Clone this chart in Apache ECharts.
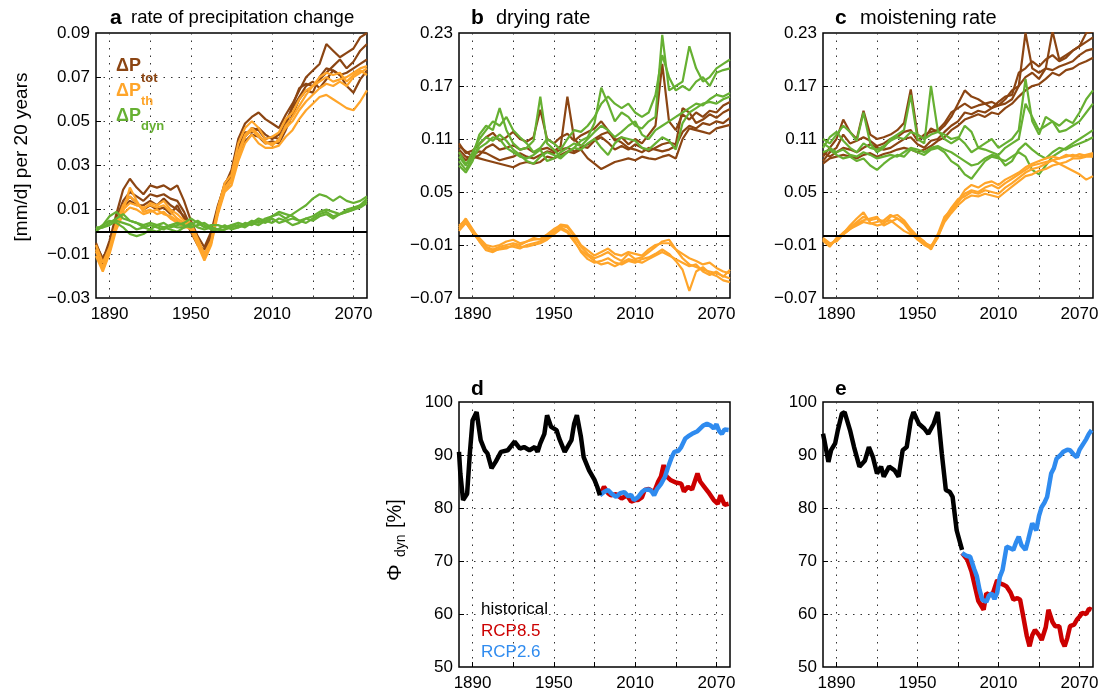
<!DOCTYPE html>
<html>
<head>
<meta charset="utf-8">
<title>precipitation change rates</title>
<script src="https://cdn.jsdelivr.net/npm/echarts@6.0.0/dist/echarts.min.js"></script>
<style>
html, body { margin: 0; padding: 0; background: #fff; }
#chart { width: 1104px; height: 695px; }
</style>
</head>
<body>
<div id="chart"></div>
<script>
var FONT = "'Liberation Sans', Arial, Helvetica, sans-serif";

// colours
var cTot = '#8B4513', cTh = '#FFA52A', cDyn = '#66B032';
var cHist = '#000000', c85 = '#CC0000', c26 = '#2F8BEF';

// axis ticks / labels
var xTickVals = [1890, 1920, 1950, 1980, 2010, 2040, 2070];
var xLabelVals = [1890, 1950, 2010, 2070];
var aLabelVals = [-0.03, -0.01, 0.01, 0.03, 0.05, 0.07, 0.09];
var bcLabelVals = [-0.07, -0.01, 0.05, 0.11, 0.17, 0.23];
var deLabelVals = [50, 60, 70, 80, 90, 100];

// years for the rate panels a-c
var years = [1880,1885,1890,1895,1900,1905,1910,1915,1920,1925,
             1930,1935,1940,1945,1950,1955,1960,1965,1970,1975,
             1980,1985,1990,1995,2000,2005,2010,2015,2020,2025,
             2030,2035,2040,2045,2050,2055,2060,2065,2070,2075,2080];

// a: rate of precipitation change
var aTot1 = [-0.005,-0.013,-0.004,0.008,0.019,0.024,0.020,0.017,0.021,0.020, 0.021,0.019,0.021,0.014,0.005,-0.002,-0.007,0.000,0.012,0.021, 0.028,0.042,0.049,0.052,0.054,0.051,0.049,0.047,0.053,0.058, 0.064,0.070,0.073,0.076,0.085,0.082,0.079,0.081,0.083,0.088, 0.090];
var aTot2 = [-0.007,-0.015,-0.007,0.006,0.014,0.018,0.016,0.014,0.017,0.016, 0.017,0.015,0.014,0.009,0.002,-0.005,-0.012,-0.004,0.010,0.020, 0.025,0.036,0.043,0.047,0.046,0.042,0.043,0.042,0.048,0.057, 0.065,0.067,0.066,0.069,0.072,0.075,0.078,0.074,0.077,0.082, 0.085];
var aTot3 = [-0.009,-0.014,-0.005,0.005,0.011,0.014,0.012,0.012,0.014,0.012, 0.015,0.012,0.010,0.007,0.001,-0.004,-0.010,-0.003,0.009,0.019, 0.023,0.035,0.041,0.044,0.043,0.040,0.041,0.040,0.046,0.053, 0.060,0.064,0.063,0.070,0.074,0.073,0.071,0.072,0.074,0.076, 0.078];
var aTot4 = [-0.006,-0.012,-0.006,0.004,0.012,0.016,0.013,0.010,0.012,0.010, 0.011,0.008,0.012,0.006,0.000,-0.006,-0.008,-0.002,0.011,0.022, 0.026,0.038,0.045,0.045,0.047,0.044,0.042,0.044,0.050,0.056, 0.061,0.066,0.068,0.065,0.069,0.073,0.071,0.066,0.063,0.069, 0.073];
var aTh1 = [-0.008,-0.017,-0.009,0.003,0.010,0.013,0.012,0.011,0.012,0.011, 0.012,0.009,0.006,0.004,0.003,-0.004,-0.012,-0.005,0.010,0.020, 0.024,0.036,0.044,0.047,0.044,0.040,0.040,0.041,0.048,0.052, 0.057,0.062,0.066,0.068,0.070,0.068,0.069,0.070,0.072,0.074, 0.075];
var aTh2 = [-0.011,-0.018,-0.010,0.001,0.008,0.011,0.010,0.008,0.009,0.010, 0.008,0.007,0.005,0.003,0.001,-0.006,-0.013,-0.006,0.008,0.018, 0.021,0.032,0.040,0.044,0.040,0.038,0.038,0.039,0.043,0.046, 0.051,0.055,0.058,0.061,0.062,0.060,0.058,0.056,0.055,0.059, 0.064];
var aTh3 = [-0.006,-0.014,-0.007,0.004,0.012,0.016,0.013,0.010,0.013,0.012, 0.014,0.010,0.008,0.005,0.004,-0.003,-0.010,-0.004,0.011,0.022, 0.026,0.040,0.047,0.050,0.047,0.042,0.043,0.045,0.051,0.054, 0.060,0.064,0.066,0.070,0.072,0.071,0.072,0.068,0.071,0.073, 0.071];
var aTh4 = [-0.009,-0.016,-0.008,0.002,0.009,0.020,0.014,0.009,0.010,0.008, 0.009,0.006,0.004,0.002,0.002,-0.005,-0.011,-0.005,0.009,0.019, 0.023,0.034,0.043,0.046,0.043,0.041,0.039,0.042,0.047,0.050, 0.055,0.059,0.062,0.065,0.067,0.066,0.068,0.066,0.070,0.072, 0.074];
var aDyn1 = [0.001,0.003,0.007,0.009,0.006,0.005,0.004,0.003,0.004,0.003, 0.004,0.002,0.003,0.004,0.006,0.004,0.002,0.003,0.003,0.002, 0.003,0.004,0.003,0.005,0.004,0.006,0.007,0.008,0.006,0.008, 0.010,0.012,0.015,0.017,0.016,0.014,0.016,0.014,0.013,0.014, 0.016];
var aDyn2 = [0.002,0.002,0.004,0.006,0.008,0.005,0.004,0.002,0.003,0.002, 0.001,0.003,0.002,0.002,0.004,0.002,0.001,0.002,0.001,0.003, 0.001,0.002,0.004,0.003,0.005,0.004,0.006,0.004,0.005,0.006, 0.005,0.004,0.006,0.008,0.009,0.007,0.008,0.009,0.010,0.011, 0.013];
var aDyn3 = [0.000,0.003,0.005,0.004,0.002,-0.001,-0.002,-0.001,0.001,0.000, 0.002,0.001,0.000,0.002,0.003,0.005,0.003,0.001,0.000,0.001, 0.002,0.003,0.002,0.004,0.003,0.005,0.004,0.006,0.005,0.003, 0.004,0.006,0.005,0.007,0.008,0.006,0.008,0.009,0.010,0.012, 0.014];
var aDyn4 = [0.001,0.002,0.003,0.005,0.004,0.003,0.001,0.002,0.001,0.003, 0.002,0.003,0.004,0.003,0.002,0.003,0.004,0.002,0.001,0.001, 0.003,0.002,0.003,0.004,0.006,0.005,0.007,0.009,0.008,0.007, 0.005,0.006,0.007,0.009,0.010,0.009,0.008,0.010,0.011,0.012, 0.015];

// b: drying rate
var bTot1 = [0.105,0.094,0.097,0.104,0.112,0.117,0.108,0.112,0.118,0.110, 0.107,0.112,0.143,0.110,0.105,0.112,0.116,0.108,0.114,0.118, 0.122,0.130,0.120,0.108,0.112,0.104,0.110,0.105,0.115,0.125, 0.195,0.130,0.120,0.138,0.132,0.140,0.135,0.142,0.140,0.148, 0.152];
var bTot2 = [0.098,0.090,0.088,0.092,0.100,0.104,0.098,0.100,0.103,0.098, 0.100,0.095,0.098,0.100,0.096,0.102,0.158,0.110,0.102,0.100, 0.108,0.112,0.106,0.098,0.102,0.098,0.104,0.100,0.096,0.100, 0.104,0.106,0.104,0.145,0.140,0.128,0.132,0.138,0.134,0.140, 0.144];
var bTot3 = [0.094,0.086,0.092,0.096,0.094,0.090,0.086,0.088,0.090,0.094, 0.090,0.088,0.092,0.096,0.094,0.098,0.100,0.096,0.100,0.104, 0.110,0.115,0.118,0.110,0.106,0.100,0.098,0.095,0.100,0.098, 0.096,0.098,0.102,0.118,0.125,0.122,0.128,0.126,0.130,0.128, 0.134];
var bTot4 = [0.102,0.096,0.090,0.088,0.086,0.084,0.082,0.080,0.078,0.082, 0.084,0.082,0.084,0.090,0.088,0.092,0.096,0.094,0.098,0.088, 0.082,0.076,0.080,0.084,0.086,0.088,0.086,0.090,0.088,0.087, 0.090,0.092,0.088,0.110,0.122,0.120,0.118,0.116,0.122,0.124, 0.126];
var bDyn1 = [0.085,0.075,0.090,0.115,0.125,0.120,0.145,0.120,0.105,0.098, 0.100,0.108,0.158,0.105,0.098,0.090,0.095,0.100,0.108,0.112, 0.128,0.168,0.150,0.130,0.140,0.135,0.125,0.122,0.130,0.135, 0.228,0.165,0.170,0.175,0.215,0.190,0.175,0.180,0.190,0.195, 0.200];
var bDyn2 = [0.090,0.080,0.095,0.110,0.120,0.130,0.125,0.135,0.120,0.112, 0.105,0.095,0.100,0.110,0.105,0.098,0.110,0.120,0.118,0.125, 0.135,0.150,0.158,0.150,0.145,0.150,0.140,0.135,0.140,0.160, 0.205,0.180,0.165,0.170,0.165,0.175,0.180,0.170,0.185,0.188, 0.190];
var bDyn3 = [0.095,0.082,0.088,0.100,0.105,0.112,0.110,0.100,0.095,0.090, 0.088,0.092,0.098,0.085,0.088,0.095,0.100,0.105,0.102,0.110, 0.118,0.125,0.120,0.112,0.118,0.125,0.130,0.115,0.110,0.120, 0.125,0.130,0.135,0.140,0.145,0.150,0.148,0.155,0.160,0.158, 0.162];
var bDyn4 = [0.080,0.072,0.085,0.105,0.112,0.108,0.115,0.108,0.098,0.092, 0.085,0.082,0.090,0.095,0.092,0.088,0.095,0.100,0.098,0.105, 0.110,0.100,0.092,0.105,0.112,0.110,0.108,0.100,0.098,0.105, 0.112,0.108,0.098,0.128,0.140,0.145,0.150,0.152,0.150,0.155, 0.158];
var bTh1 = [0.010,0.020,0.008,-0.004,-0.012,-0.015,-0.012,-0.010,-0.008,-0.010, -0.006,-0.004,-0.003,0.002,0.008,0.012,0.010,0.000,-0.012,-0.020, -0.025,-0.022,-0.018,-0.024,-0.028,-0.020,-0.026,-0.024,-0.018,-0.012, -0.006,-0.004,-0.015,-0.025,-0.032,-0.035,-0.038,-0.040,-0.042,-0.045, -0.048];
var bTh2 = [0.006,0.015,0.005,-0.006,-0.016,-0.018,-0.014,-0.012,-0.012,-0.014, -0.010,-0.008,-0.006,-0.002,0.004,0.010,0.006,-0.004,-0.018,-0.026, -0.030,-0.028,-0.025,-0.030,-0.032,-0.028,-0.030,-0.026,-0.024,-0.020, -0.015,-0.020,-0.028,-0.038,-0.062,-0.040,-0.035,-0.042,-0.045,-0.050, -0.052];
var bTh3 = [0.012,0.018,0.006,-0.002,-0.010,-0.012,-0.010,-0.006,-0.004,-0.008, -0.006,-0.002,-0.004,0.000,0.006,0.013,0.012,0.002,-0.010,-0.016, -0.022,-0.018,-0.014,-0.020,-0.022,-0.018,-0.020,-0.022,-0.015,-0.010, -0.008,-0.008,-0.015,-0.020,-0.025,-0.028,-0.032,-0.030,-0.036,-0.040, -0.042];
var bTh4 = [0.008,0.016,0.004,-0.005,-0.014,-0.016,-0.015,-0.014,-0.010,-0.012, -0.012,-0.010,-0.008,-0.004,0.002,0.008,0.004,-0.006,-0.016,-0.022, -0.028,-0.032,-0.030,-0.034,-0.030,-0.026,-0.028,-0.030,-0.026,-0.022, -0.018,-0.022,-0.026,-0.030,-0.034,-0.032,-0.040,-0.044,-0.040,-0.046, -0.038];

// c: moistening rate
var cTot1 = [0.090,0.100,0.110,0.132,0.118,0.110,0.142,0.115,0.110,0.112, 0.115,0.120,0.128,0.166,0.115,0.110,0.122,0.118,0.125,0.135, 0.150,0.165,0.158,0.155,0.150,0.152,0.148,0.155,0.165,0.170, 0.230,0.190,0.185,0.190,0.232,0.200,0.205,0.210,0.215,0.230, 0.232];
var cTot2 = [0.085,0.095,0.100,0.115,0.105,0.108,0.112,0.108,0.102,0.105, 0.110,0.112,0.118,0.120,0.108,0.115,0.118,0.120,0.128,0.140, 0.145,0.150,0.145,0.148,0.150,0.145,0.152,0.158,0.160,0.185, 0.190,0.198,0.192,0.200,0.205,0.198,0.202,0.210,0.215,0.220, 0.225];
var cTot3 = [0.095,0.090,0.095,0.100,0.098,0.095,0.100,0.104,0.100,0.098, 0.100,0.105,0.110,0.112,0.104,0.100,0.108,0.110,0.118,0.125, 0.130,0.140,0.138,0.142,0.140,0.145,0.148,0.150,0.155,0.170, 0.180,0.185,0.178,0.190,0.188,0.192,0.195,0.198,0.205,0.210, 0.212];
var cTot4 = [0.082,0.088,0.090,0.092,0.090,0.088,0.092,0.094,0.090,0.093, 0.095,0.098,0.100,0.098,0.095,0.098,0.102,0.108,0.112,0.120, 0.125,0.132,0.135,0.138,0.135,0.140,0.138,0.145,0.150,0.158, 0.165,0.170,0.172,0.178,0.185,0.182,0.188,0.190,0.195,0.198, 0.202];
var cDyn1 = [0.110,0.105,0.115,0.125,0.118,0.108,0.140,0.105,0.095,0.100, 0.110,0.115,0.120,0.160,0.110,0.105,0.170,0.120,0.110,0.105, 0.110,0.125,0.118,0.100,0.105,0.110,0.100,0.105,0.110,0.120, 0.178,0.130,0.115,0.135,0.130,0.125,0.132,0.128,0.140,0.155, 0.165];
var cDyn2 = [0.100,0.112,0.118,0.108,0.100,0.095,0.105,0.100,0.098,0.102, 0.108,0.112,0.110,0.118,0.115,0.110,0.115,0.118,0.115,0.110, 0.112,0.105,0.095,0.100,0.098,0.095,0.092,0.100,0.105,0.110, 0.150,0.135,0.120,0.125,0.130,0.118,0.120,0.125,0.130,0.140, 0.150];
var cDyn3 = [0.095,0.098,0.092,0.088,0.090,0.085,0.088,0.080,0.075,0.082, 0.088,0.092,0.090,0.098,0.095,0.092,0.098,0.100,0.095,0.085, 0.080,0.070,0.065,0.075,0.085,0.090,0.088,0.085,0.090,0.095, 0.090,0.075,0.070,0.080,0.090,0.095,0.100,0.105,0.110,0.115, 0.120];
var cDyn4 = [0.105,0.100,0.095,0.098,0.092,0.090,0.095,0.092,0.088,0.090, 0.092,0.090,0.095,0.100,0.098,0.095,0.100,0.102,0.098,0.095, 0.090,0.085,0.080,0.082,0.088,0.092,0.090,0.080,0.085,0.098, 0.105,0.098,0.092,0.088,0.095,0.100,0.098,0.102,0.105,0.108, 0.112];
var cTh1 = [-0.003,-0.010,-0.004,0.004,0.010,0.016,0.022,0.018,0.020,0.016, 0.018,0.012,0.006,0.002,-0.002,-0.008,-0.012,0.002,0.022,0.030, 0.040,0.052,0.058,0.055,0.060,0.062,0.058,0.064,0.068,0.072, 0.078,0.082,0.085,0.088,0.090,0.088,0.090,0.092,0.090,0.092, 0.094];
var cTh2 = [-0.005,-0.012,-0.002,0.003,0.012,0.020,0.027,0.015,0.012,0.014, 0.022,0.024,0.018,0.008,0.000,-0.006,-0.015,0.000,0.018,0.028, 0.038,0.048,0.052,0.050,0.055,0.058,0.054,0.060,0.065,0.070, 0.075,0.080,0.082,0.084,0.086,0.082,0.078,0.074,0.070,0.064, 0.068];
var cTh3 = [-0.002,-0.008,-0.006,0.002,0.008,0.012,0.016,0.014,0.016,0.018, 0.024,0.020,0.014,0.004,-0.004,-0.010,-0.014,-0.002,0.020,0.032, 0.042,0.045,0.050,0.048,0.052,0.050,0.048,0.055,0.060,0.066, 0.072,0.076,0.078,0.082,0.086,0.088,0.092,0.090,0.093,0.091, 0.092];
var cTh4 = [-0.004,-0.011,-0.003,0.002,0.008,0.014,0.018,0.020,0.022,0.012, 0.016,0.020,0.016,0.006,-0.001,-0.007,-0.011,-0.001,0.016,0.026, 0.035,0.042,0.046,0.045,0.048,0.046,0.044,0.050,0.056,0.062, 0.068,0.070,0.074,0.076,0.080,0.082,0.084,0.088,0.088,0.090, 0.090];

// d: Phi_dyn drying
var dHistYears = [1880,1881,1883,1886,1888,1890,1893,1896,1899,1901,1904,1907,1911,1916,1921,1925,1928,1932,1936,1938,1940,1943,1945,1948,1952,1954,1958,1960,1963,1965,1967,1970,1972,1976,1980,1982,1984];
var dHist = [90.6,86.5,81.5,82.7,90.3,96.5,98.1,92.8,90.9,90.3,87.5,88.7,90.6,90.9,92.5,91.2,91.5,90.9,91.5,90.6,92.2,94.0,97.5,95.3,94.7,93.1,90.6,91.5,92.8,95.9,97.5,93.4,89.6,87.1,85.3,84.0,82.4];
var d85Years = [1984,1987,1990,1992,1996,2000,2004,2007,2010,2012,2015,2017,2020,2024,2027,2029,2031,2033,2036,2040,2044,2046,2049,2052,2056,2058,2061,2064,2068,2071,2073,2076,2079];
var d85 = [82.4,84.0,82.8,82.4,82.6,81.8,82.4,81.2,81.5,81.5,82.0,83.4,83.6,83.0,85.0,85.9,88.1,86.0,85.3,84.8,84.6,83.1,84.0,83.5,86.5,85.0,84.0,83.0,81.5,80.8,82.4,80.6,80.8];
var d26Years = [1984,1987,1990,1993,1996,1999,2002,2005,2007,2009,2012,2015,2017,2020,2022,2024,2026,2029,2032,2034,2037,2039,2042,2044,2047,2049,2052,2056,2060,2063,2066,2068,2070,2072,2074,2076,2079];
var d26 = [82.4,83.0,83.4,82.6,82.1,82.8,83.0,82.2,82.5,81.5,82.0,83.0,83.4,83.5,83.2,82.4,83.5,84.5,85.9,87.5,89.6,90.6,90.8,91.5,93.1,93.5,94.0,94.5,95.5,95.9,95.5,95.0,95.8,94.5,94.0,94.8,94.7];

// e: Phi_dyn moistening
var eHistYears = [1880,1881,1884,1886,1889,1891,1894,1896,1900,1903,1907,1911,1914,1917,1920,1923,1925,1929,1933,1936,1939,1942,1945,1947,1951,1955,1958,1962,1965,1968,1971,1974,1976,1979,1983];
var eHist = [94.0,92.8,88.7,90.9,92.2,94.7,97.8,98.1,94.7,91.5,87.8,88.9,91.5,89.6,86.5,87.8,85.9,87.8,87.1,85.9,90.9,91.5,96.5,98.1,95.9,95.0,94.0,95.9,98.1,90.3,83.4,83.0,82.1,75.8,72.1];
var e85Years = [1983,1987,1990,1992,1995,1999,2001,2004,2006,2009,2011,2014,2016,2019,2021,2024,2026,2028,2031,2033,2035,2037,2040,2042,2045,2047,2050,2052,2055,2057,2059,2061,2063,2066,2068,2070,2072,2075,2077,2079];
var e85 = [71.5,70.2,68.0,65.8,62.5,60.8,63.9,63.5,64.0,66.4,65.8,65.5,65.2,64.0,62.7,63.0,62.7,60.0,55.8,53.9,56.0,57.0,56.0,55.1,57.5,60.8,58.5,57.7,57.7,55.0,53.9,55.5,57.7,58.0,58.9,59.5,60.2,60.0,61.0,60.8];
var e26Years = [1983,1986,1989,1992,1994,1996,1998,2001,2003,2005,2007,2009,2011,2013,2016,2018,2021,2023,2025,2027,2030,2032,2035,2038,2040,2042,2044,2046,2049,2051,2053,2056,2058,2061,2063,2066,2068,2070,2073,2075,2077,2079];
var e26 = [71.5,71.0,70.8,68.5,67.1,64.5,62.7,62.3,63.5,63.9,62.8,64.0,67.0,68.3,72.7,72.5,72.1,73.5,74.6,73.0,72.1,74.0,77.1,75.8,78.5,80.2,81.0,82.1,86.5,87.5,89.3,90.0,90.6,91.0,90.9,90.0,89.6,91.0,92.2,93.0,94.0,94.7];

function pairs(xs, ys) {
    return xs.map(function (x, i) { return [x, ys[i]]; });
}

function line(gi, xs, ys, color, width) {
    return {
        type: 'line',
        xAxisIndex: gi,
        yAxisIndex: gi,
        data: pairs(xs, ys),
        showSymbol: false,
        symbol: 'none',
        lineStyle: { color: color, width: width },
        silent: true,
        animation: false
    };
}

function fmtRate(v) {
    var s = Math.abs(v).toFixed(2);
    return v < -1e-9 ? '\u2212' + s : s;
}

function fmtYear(v) {
    return String(Math.round(v));
}

var gridLine = { show: true, lineStyle: { color: '#333', width: 1, type: [1.5, 6] } };

function xAxisFor(gi) {
    return {
        type: 'value', gridIndex: gi, min: 1880, max: 2080,
        axisLine: { show: false },
        axisTick: { show: true, inside: true, length: 5, lineStyle: { color: '#000' }, customValues: xTickVals },
        axisLabel: { customValues: xLabelVals, margin: 8, color: '#000', fontSize: 17, fontFamily: FONT, formatter: fmtYear },
        splitLine: gridLine
    };
}

function yAxisFor(gi, min, max, labels, fmt) {
    return {
        type: 'value', gridIndex: gi, min: min, max: max,
        axisLine: { show: false },
        axisTick: { show: true, inside: true, length: 5, lineStyle: { color: '#000' }, customValues: labels.slice(1, -1) },
        axisLabel: { customValues: labels, margin: 6, color: '#000', fontSize: 17, fontFamily: FONT, formatter: fmt },
        splitLine: gridLine
    };
}

var zeroLine = {
    silent: true,
    symbol: 'none',
    label: { show: false },
    lineStyle: { color: '#000', width: 2, type: 'solid' },
    data: [{ yAxis: 0 }]
};

var W = 2.2;
var series = [];
// panel a
[aTot1, aTot2, aTot3, aTot4].forEach(function (d) { series.push(line(0, years, d, cTot, W)); });
[aTh1, aTh2, aTh3, aTh4].forEach(function (d) { series.push(line(0, years, d, cTh, W)); });
[aDyn1, aDyn2, aDyn3, aDyn4].forEach(function (d) { series.push(line(0, years, d, cDyn, W)); });
series[series.length - 1].markLine = zeroLine;
// panel b
[bTot1, bTot2, bTot3, bTot4].forEach(function (d) { series.push(line(1, years, d, cTot, W)); });
[bDyn1, bDyn2, bDyn3, bDyn4].forEach(function (d) { series.push(line(1, years, d, cDyn, W)); });
[bTh1, bTh2, bTh3, bTh4].forEach(function (d) { series.push(line(1, years, d, cTh, W)); });
series[series.length - 1].markLine = zeroLine;
// panel c
[cTot1, cTot2, cTot3, cTot4].forEach(function (d) { series.push(line(2, years, d, cTot, W)); });
[cDyn1, cDyn2, cDyn3, cDyn4].forEach(function (d) { series.push(line(2, years, d, cDyn, W)); });
[cTh1, cTh2, cTh3, cTh4].forEach(function (d) { series.push(line(2, years, d, cTh, W)); });
series[series.length - 1].markLine = zeroLine;
// panel d
series.push(line(3, d85Years, d85, c85, 4.5));
series.push(line(3, d26Years, d26, c26, 4.5));
series.push(line(3, dHistYears, dHist, cHist, 4.5));
// panel e
series.push(line(4, e85Years, e85, c85, 4.5));
series.push(line(4, e26Years, e26, c26, 4.5));
series.push(line(4, eHistYears, eHist, cHist, 4.5));

var gridBox = { show: true, borderColor: '#000', borderWidth: 1.5, backgroundColor: 'transparent' };

function txt(x, y, text, size, color, weight, align) {
    return {
        type: 'text', x: x, y: y, silent: true, z: 100,
        style: {
            text: text, fill: color || '#000', fontSize: size, fontFamily: FONT,
            fontWeight: weight || 'normal', textAlign: align || 'left', textVerticalAlign: 'middle'
        }
    };
}

var graphics = [
    // panel titles
    txt(110, 18, 'a', 21, '#000', 'bold'),
    txt(131, 18, 'rate of precipitation change', 18.5),
    txt(471, 18, 'b', 21, '#000', 'bold'),
    txt(496, 18, 'drying rate', 20),
    txt(835, 18, 'c', 21, '#000', 'bold'),
    txt(860, 18, 'moistening rate', 20),
    txt(471, 389, 'd', 21, '#000', 'bold'),
    txt(835, 389, 'e', 21, '#000', 'bold'),
    // legend panel a
    txt(116, 66, '\u0394P', 18, cTot, 'bold'),
    txt(141, 78.5, 'tot', 13, cTot, 'bold'),
    txt(116, 91.5, '\u0394P', 18, cTh, 'bold'),
    txt(141, 101, 'th', 13, cTh, 'bold'),
    txt(116, 116.5, '\u0394P', 18, cDyn, 'bold'),
    txt(141, 126, 'dyn', 13, cDyn, 'bold'),
    // legend panel d
    txt(481, 609.5, 'historical', 17, cHist),
    txt(481, 631, 'RCP8.5', 17, c85),
    txt(481, 652, 'RCP2.6', 17, c26),
    // y axis names
    {
        type: 'text', x: 22, y: 157, rotation: Math.PI / 2, silent: true,
        style: { text: '[mm/d] per 20 years', fill: '#000', fontSize: 19, fontFamily: FONT, textAlign: 'center', textVerticalAlign: 'middle' }
    },
    {
        type: 'group', x: 395, y: 537, rotation: Math.PI / 2, silent: true,
        children: [
            { type: 'text', x: -44, y: 0, style: { text: '\u03A6', fill: '#000', fontSize: 21, fontFamily: FONT, textAlign: 'left', textVerticalAlign: 'middle' } },
            { type: 'text', x: -20, y: 6, style: { text: 'dyn', fill: '#000', fontSize: 14, fontFamily: FONT, textAlign: 'left', textVerticalAlign: 'middle' } },
            { type: 'text', x: 9, y: 0, style: { text: '[%]', fill: '#000', fontSize: 20, fontFamily: FONT, textAlign: 'left', textVerticalAlign: 'middle' } }
        ]
    }
];

var option = {
    backgroundColor: '#fff',
    animation: false,
    textStyle: { fontFamily: FONT },
    grid: [
        Object.assign({ left: 96, top: 33, width: 271, height: 265 }, gridBox),
        Object.assign({ left: 459, top: 33, width: 271, height: 265 }, gridBox),
        Object.assign({ left: 823, top: 33, width: 270, height: 265 }, gridBox),
        Object.assign({ left: 459, top: 402, width: 271, height: 265 }, gridBox),
        Object.assign({ left: 823, top: 402, width: 270, height: 265 }, gridBox)
    ],
    xAxis: [xAxisFor(0), xAxisFor(1), xAxisFor(2), xAxisFor(3), xAxisFor(4)],
    yAxis: [
        yAxisFor(0, -0.03, 0.09, aLabelVals, fmtRate),
        yAxisFor(1, -0.07, 0.23, bcLabelVals, fmtRate),
        yAxisFor(2, -0.07, 0.23, bcLabelVals, fmtRate),
        yAxisFor(3, 50, 100, deLabelVals),
        yAxisFor(4, 50, 100, deLabelVals)
    ],
    graphic: graphics,
    series: series
};

var myChart = echarts.init(document.getElementById('chart'));
myChart.setOption(option);
</script>
</body>
</html>
